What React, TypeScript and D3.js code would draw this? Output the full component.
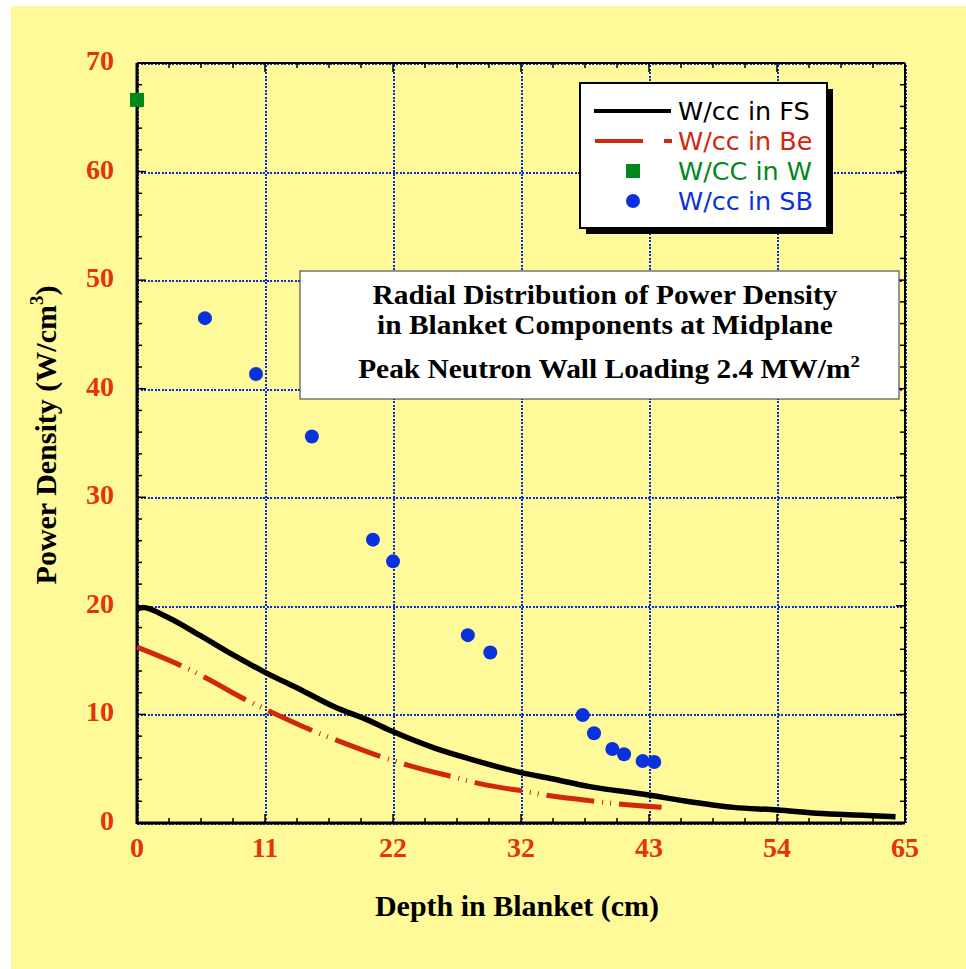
import React, { useEffect, useRef } from 'react';
import * as d3 from 'd3';

// x positions (cm) and values (W/cm3)
const fsDepth = [0, 0.5, 2.5, 5.3, 8.1, 10.8, 13.9, 16.7, 19.5, 21.7, 25.2, 28.0, 32.5, 35.0, 38.3, 43.3, 46.2, 50.5, 54.2, 57.5, 61.8, 64.2];
const fsPower = [19.7, 19.85, 19.0, 17.3, 15.5, 13.9, 12.25, 10.7, 9.5, 8.4, 6.9, 5.95, 4.64, 4.1, 3.35, 2.58, 2.06, 1.44, 1.2, 0.89, 0.7, 0.58];

const beDepth = [0, 3.8, 5.6, 9.3, 11.4, 15.3, 17.2, 21.1, 22.9, 26.9, 28.7, 30.7, 32.7, 34.5, 38.3, 40.3, 44.4];
const bePower = [16.2, 14.46, 13.5, 11.3, 10.2, 8.3, 7.5, 5.95, 5.34, 4.2, 3.7, 3.28, 2.95, 2.58, 2.06, 1.8, 1.44];

const wDepth = [0];
const wPower = [66.6];

const sbDepth = [5.75, 10.07, 14.8, 19.97, 21.67, 28.0, 29.9, 37.72, 38.68, 40.23, 41.22, 42.8, 43.78];
const sbPower = [46.5, 41.35, 35.6, 26.1, 24.1, 17.3, 15.7, 9.94, 8.26, 6.82, 6.33, 5.7, 5.62];

const xTickLabels = ['0', '11', '22', '32', '43', '54', '65'];
const yTickLabels = ['0', '10', '20', '30', '40', '50', '60', '70'];

const legendLabels = ['W/cc in FS', 'W/cc in Be', 'W/CC in W', 'W/cc in SB'];
const titleLines = ['Radial Distribution of Power Density', 'in Blanket Components at Midplane'];

const BG = '#FFFA99';
const TICK_RED = '#E5330B';
const GRID_BLUE = '#0A2BE6';
const BE_RED = '#D0280C';
const W_GREEN = '#00881C';
const SB_BLUE = '#0A32DC';

const App: React.FC = () => {
  const ref = useRef<SVGSVGElement>(null);

  useEffect(() => {
    const svg = d3.select(ref.current);
    svg.html('');
    const W = 966, H = 969;
    const left = 137, right = 905, top = 63, bottom = 823;

    const x = d3.scaleLinear().domain([0, 65]).range([left, right]);
    const y = d3.scaleLinear().domain([0, 70]).range([bottom, top]);

    svg.append('rect').attr('x', 11).attr('y', 6).attr('width', W - 11).attr('height', H - 6).attr('fill', BG);

    const serif = '"Liberation Serif", "Times New Roman", serif';
    const sans = '"DejaVu Sans", Verdana, sans-serif';

    const xMajor = d3.range(0, 7).map(i => (i * 65) / 6);
    const yMajor = d3.range(0, 8).map(i => i * 10);
    const xMinor = d3.range(0, 25).map(i => (i * 65) / 24).filter((_, i) => i % 4 !== 0);
    const yMinor = d3.range(0, 36).map(i => i * 2).filter(v => v % 10 !== 0);

    // grid
    const grid = svg.append('g').attr('stroke', GRID_BLUE).attr('stroke-width', 2)
      .attr('stroke-dasharray', '2,1.5').attr('shape-rendering', 'crispEdges');
    xMajor.forEach(v => {
      const gx = Math.round(x(v)) + 1;
      grid.append('line').attr('x1', gx).attr('x2', gx).attr('y1', top + 2).attr('y2', bottom);
    });
    yMajor.forEach(v => {
      const gy = Math.round(y(v)) + 1;
      grid.append('line').attr('x1', left).attr('x2', right - 1).attr('y1', gy).attr('y2', gy);
    });

    // frame
    const frame = svg.append('g').attr('stroke', '#000').attr('fill', 'none');
    frame.append('line').attr('x1', left).attr('x2', left).attr('y1', top).attr('y2', bottom + 1).attr('stroke-width', 3);
    frame.append('line').attr('x1', left).attr('x2', right).attr('y1', bottom).attr('y2', bottom).attr('stroke-width', 3);
    frame.append('line').attr('x1', left).attr('x2', right).attr('y1', top).attr('y2', top).attr('stroke-width', 2);
    frame.append('line').attr('x1', right).attr('x2', right).attr('y1', top).attr('y2', bottom).attr('stroke-width', 2);

    // inward ticks on all four sides
    const ticks = svg.append('g').attr('stroke', '#000').attr('stroke-width', 1.5);
    xMajor.slice(1, -1).forEach(v => {
      ticks.append('line').attr('x1', x(v)).attr('x2', x(v)).attr('y1', bottom).attr('y2', bottom - 9);
      ticks.append('line').attr('x1', x(v)).attr('x2', x(v)).attr('y1', top).attr('y2', top + 9);
    });
    xMinor.forEach(v => {
      ticks.append('line').attr('x1', x(v)).attr('x2', x(v)).attr('y1', bottom).attr('y2', bottom - 5);
      ticks.append('line').attr('x1', x(v)).attr('x2', x(v)).attr('y1', top).attr('y2', top + 5);
    });
    yMajor.slice(1, -1).forEach(v => {
      ticks.append('line').attr('x1', left).attr('x2', left + 9).attr('y1', y(v)).attr('y2', y(v));
      ticks.append('line').attr('x1', right).attr('x2', right - 9).attr('y1', y(v)).attr('y2', y(v));
    });
    yMinor.forEach(v => {
      ticks.append('line').attr('x1', left).attr('x2', left + 5).attr('y1', y(v)).attr('y2', y(v));
      ticks.append('line').attr('x1', right).attr('x2', right - 5).attr('y1', y(v)).attr('y2', y(v));
    });

    // tick labels
    const labels = svg.append('g').attr('font-family', serif).attr('font-weight', 'bold').attr('font-size', 28).attr('fill', TICK_RED);
    xMajor.forEach((v, i) => {
      labels.append('text').attr('x', x(v)).attr('y', 857).attr('text-anchor', 'middle').text(xTickLabels[i]);
    });
    yMajor.forEach((v, i) => {
      labels.append('text').attr('x', 114).attr('y', y(v) + 7).attr('text-anchor', 'end').text(yTickLabels[i]);
    });

    // axis titles
    svg.append('text')
      .attr('x', 517).attr('y', 916).attr('text-anchor', 'middle')
      .attr('font-family', serif).attr('font-weight', 'bold').attr('font-size', 30)
      .text('Depth in Blanket (cm)');
    const yt = svg.append('text')
      .attr('transform', 'translate(56,435) rotate(-90)').attr('text-anchor', 'middle')
      .attr('font-family', serif).attr('font-weight', 'bold').attr('font-size', 30);
    yt.append('tspan').text('Power Density (W/cm');
    yt.append('tspan').attr('font-size', 19).attr('dy', -13).text('3');
    yt.append('tspan').attr('dy', 13).text(')');

    // curves
    const line = d3.line<[number, number]>().x(d => x(d[0])).y(d => y(d[1])).curve(d3.curveMonotoneX);
    svg.append('path')
      .datum(beDepth.map((d, i) => [d, bePower[i]] as [number, number]))
      .attr('d', line).attr('fill', 'none').attr('stroke', BE_RED).attr('stroke-width', 5)
      .attr('stroke-dasharray', '48,8,1,7,1,8');
    svg.append('path')
      .datum(fsDepth.map((d, i) => [d, fsPower[i]] as [number, number]))
      .attr('d', line).attr('fill', 'none').attr('stroke', '#000').attr('stroke-width', 5.5);

    // W point
    wDepth.forEach((d, i) => {
      svg.append('rect').attr('x', x(d) - 7).attr('y', y(wPower[i]) - 7).attr('width', 14).attr('height', 14).attr('fill', W_GREEN);
    });
    // SB points
    svg.append('g').selectAll('circle')
      .data(sbDepth.map((d, i) => [d, sbPower[i]]))
      .enter().append('circle')
      .attr('cx', d => x(d[0])).attr('cy', d => y(d[1])).attr('r', 7).attr('fill', SB_BLUE);

    // title box
    svg.append('rect').attr('x', 300).attr('y', 271).attr('width', 599).attr('height', 128)
      .attr('fill', '#fff').attr('stroke', '#333').attr('stroke-width', 1);
    const tb = svg.append('g').attr('font-family', serif).attr('font-weight', 'bold').attr('font-size', 26.5).attr('text-anchor', 'middle');
    titleLines.forEach((t, i) => {
      tb.append('text').attr('transform', `translate(605,${304 + i * 30}) scale(1.11,1)`).text(t);
    });
    const t3 = tb.append('text').attr('transform', 'translate(609,378) scale(1.11,1)');
    t3.append('tspan').text('Peak Neutron Wall Loading 2.4 MW/m');
    t3.append('tspan').attr('font-size', 17).attr('dy', -11).text('2');

    // legend
    const lg = svg.append('g');
    lg.append('rect').attr('x', 586).attr('y', 89).attr('width', 247).attr('height', 145).attr('fill', '#000');
    lg.append('rect').attr('x', 580).attr('y', 83).attr('width', 247).attr('height', 145)
      .attr('fill', '#fff').attr('stroke', '#000').attr('stroke-width', 2);
    const rowY = [111, 141, 171, 201];
    const colors = ['#000', BE_RED, W_GREEN, SB_BLUE];
    lg.append('line').attr('x1', 594).attr('x2', 671).attr('y1', rowY[0]).attr('y2', rowY[0]).attr('stroke', '#000').attr('stroke-width', 4);
    lg.append('line').attr('x1', 595).attr('x2', 672).attr('y1', rowY[1]).attr('y2', rowY[1]).attr('stroke', BE_RED).attr('stroke-width', 4)
      .attr('stroke-dasharray', '48,21,8');
    lg.append('rect').attr('x', 626).attr('y', rowY[2] - 7).attr('width', 14).attr('height', 14).attr('fill', W_GREEN);
    lg.append('circle').attr('cx', 633).attr('cy', rowY[3]).attr('r', 7).attr('fill', SB_BLUE);
    legendLabels.forEach((t, i) => {
      lg.append('text').attr('x', 678).attr('y', rowY[i] + 9).attr('font-family', sans).attr('font-size', 25.5)
        .attr('fill', colors[i]).text(t);
    });
  }, []);

  return <svg ref={ref} width={966} height={969} style={{ position: 'absolute', left: 0, top: 0 }} />;
};

export default App;
